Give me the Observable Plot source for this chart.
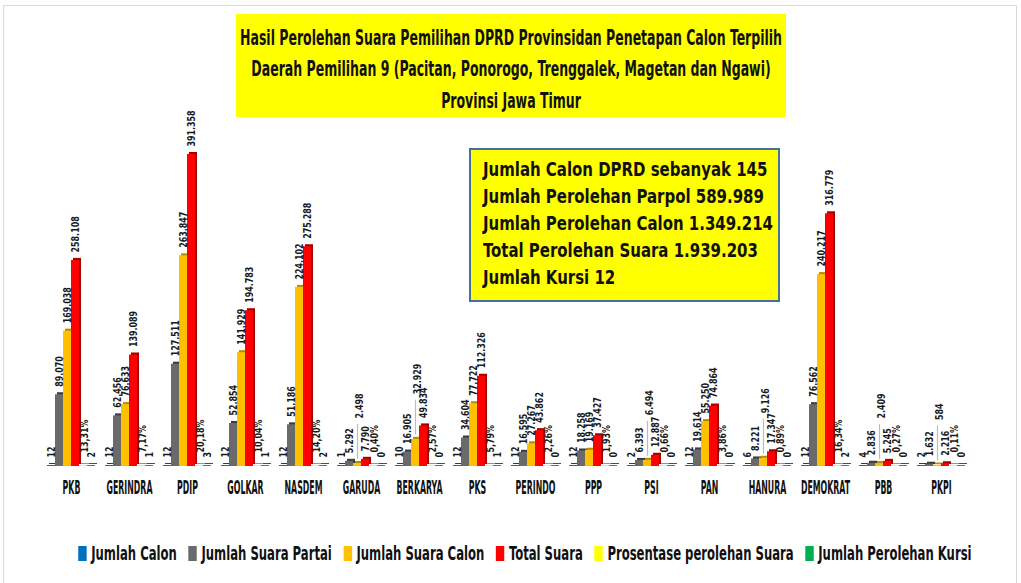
<!DOCTYPE html>
<html>
<head>
<meta charset="utf-8">
<script src="https://cdn.jsdelivr.net/npm/d3@7"></script>
<script src="https://cdn.jsdelivr.net/npm/@observablehq/plot@0.6"></script>
<style>
  body { margin: 0; background: #fff; }
  #wrap { position: relative; width: 1021px; height: 583px; overflow: hidden;
          font-family: "DejaVu Sans Condensed", "DejaVu Sans", sans-serif; font-stretch: condensed; font-weight: bold; color: #111; }
  #frame { position: absolute; left: 3px; top: 5px; width: 1014px; height: 620px; border: 1.5px solid #d9d9d9; box-sizing: border-box; }
  #chart { position: absolute; left: 0; top: 0; }
  #title { position: absolute; left: 236px; top: 14px; width: 550px; height: 103px; background: #ffff00; }
  .tl { position: absolute; left: 50%; white-space: nowrap; font-size: 21px; line-height: 21px; transform-origin: center; }
  #info { position: absolute; left: 469px; top: 148px; width: 311px; height: 154px; background: #ffff00;
          border: 2px solid #41719c; box-sizing: border-box; }
  .il { position: absolute; left: 12px; white-space: nowrap; font-size: 19px; line-height: 19px; transform-origin: left center; }
  #legend { position: absolute; top: 542px; left: 14px; width: 1021px; display: flex; justify-content: center; }
  #legendInner { display: flex; align-items: center; white-space: nowrap; font-size: 20px; line-height: 22px; transform-origin: center; }
  .li { display: flex; align-items: center; margin: 0 9px; }
  .sw { display: inline-block; width: 13px; height: 15px; margin-right: 7px; }
</style>
</head>
<body>
<div id="wrap">
  <div id="frame"></div>
  <div id="chart"></div>
  <div id="title"></div>
  <div id="info"></div>
  <div id="legend"><div id="legendInner"></div></div>
</div>
<script>
// ---- data ----
const parties = ["PKB","GERINDRA","PDIP","GOLKAR","NASDEM","GARUDA","BERKARYA","PKS","PERINDO","PPP","PSI","PAN","HANURA","DEMOKRAT","PBB","PKPI"];
const jumlahCalon = [12,12,12,12,12,1,10,12,12,12,2,12,6,12,4,2];
const suaraPartai = [89070,62456,127511,52854,51186,5292,16905,34604,16595,18258,6393,19614,8221,76562,2836,1632];
const suaraCalon  = [169038,76633,263847,141929,224102,2498,32929,77722,27267,19169,6494,55250,9126,240217,2409,584];
const totalSuara  = [258108,139089,391358,194783,275288,7790,49834,112326,43862,37427,12887,74864,17347,316779,5245,2216];
const prosentase  = [13.31,7.17,20.18,10.04,14.20,0.40,2.57,5.79,2.26,1.93,0.66,3.86,0.89,16.34,0.27,0.11];
const kursi       = [2,1,3,1,2,0,0,1,0,0,0,0,0,2,0,0];
const seriesNames = ["Jumlah Calon","Jumlah Suara Partai","Jumlah Suara Calon","Total Suara","Prosentase perolehan Suara","Jumlah Perolehan Kursi"];
const titleLines = ["Hasil Perolehan Suara Pemilihan DPRD Provinsidan Penetapan Calon Terpilih",
                    "Daerah Pemilihan 9 (Pacitan, Ponorogo, Trenggalek, Magetan dan Ngawi)",
                    "Provinsi Jawa Timur"];
const infoLines = ["Jumlah Calon DPRD sebanyak 145","Jumlah Perolehan Parpol 589.989","Jumlah Perolehan Calon 1.349.214",
                   "Total Perolehan Suara 1.939.203","Jumlah Kursi 12"];
// parties whose "Jumlah Suara Calon" label is lifted with a leader line
const liftedParties = ["GARUDA","BERKARYA","PSI","HANURA","PBB","PKPI"];

// ---- styles ----
const colors = ["#0070c0","#6a6a6a","#ffc000","#ff0000","#ffff00","#00b050"];
const darks  = ["#004a80","#3c3c3c","#b88a00","#a80000","#a8a800","#00783a"];
const FONT = '"DejaVu Sans Condensed", "DejaVu Sans", sans-serif';

const seriesValues = [jumlahCalon, suaraPartai, suaraCalon, totalSuara, prosentase, kursi];
const fmtInt = v => d3.format(",")(v).replace(/,/g, ".");
const rows = [];
parties.forEach((p, i) => {
  seriesNames.forEach((s, j) => {
    const v = seriesValues[j][i];
    const label = j === 4 ? v.toFixed(2).replace(".", ",") + "%" : fmtInt(v);
    rows.push({party: p, series: s, si: j, value: v, label, lifted: j === 2 && liftedParties.includes(p)});
  });
});
const darkOf = d => darks[d.si];

const normal = rows.filter(d => !d.lifted && d.si !== 4);
const pct = rows.filter(d => d.si === 4);
const lifted = rows.filter(d => d.lifted);

const chart = Plot.plot({
  width: 1021, height: 583,
  marginLeft: 42, marginRight: 50.5, marginTop: 155, marginBottom: 117,
  style: {fontFamily: FONT, fontStretch: "condensed", fontSize: "18px", fontWeight: "bold", color: "#111", background: "transparent", overflow: "visible"},
  fx: {domain: parties, paddingInner: 0.18, paddingOuter: 0, axis: "bottom", tickSize: 0, tickPadding: 13, label: null},
  x: {domain: seriesNames, padding: 0, axis: null},
  y: {domain: [0, d3.max(totalSuara)], axis: null},
  color: {domain: seriesNames, range: colors},
  marks: [
    Plot.barY(rows, {fx: "party", x: "series", y: "value", fill: darkOf, dx: 2, dy: -2, insetTop: -1}),
    Plot.barY(rows, {fx: "party", x: "series", y: "value", fill: "series", insetTop: -1}),
    Plot.ruleX(lifted, {fx: "party", x: "series", y1: "value", y2: "value", stroke: "#bdbdbd", strokeWidth: 1.2, insetBottom: 5, insetTop: -40}),
    Plot.text(normal, {fx: "party", x: "series", y: "value", text: "label", rotate: -90, textAnchor: "start", dy: -9, fontSize: 11, fill: "#1a1a1a"}),
    Plot.text(pct, {fx: "party", x: "series", y: "value", text: "label", rotate: -90, textAnchor: "start", dy: -14, dx: 1, fontSize: 11, fill: "#1a1a1a"}),
    Plot.text(lifted, {fx: "party", x: "series", y: "value", text: "label", rotate: -90, textAnchor: "start", dy: -46, dx: 2, fontSize: 11, fill: "#1a1a1a"})
  ]
});
document.getElementById("chart").appendChild(chart);

// condense SVG texts: rotated value labels along their length, axis labels horizontally
const texts = Array.from(chart.querySelectorAll("text"));
const axisTexts = texts.filter(t => !(t.getAttribute("transform") || "").includes("rotate"));
const valueTexts = texts.filter(t => (t.getAttribute("transform") || "").includes("rotate"));
valueTexts.forEach(t => t.setAttribute("transform", t.getAttribute("transform") + " scale(0.8,1)"));
axisTexts.forEach(t => { t.setAttribute("font-size", 20); t.style.fontSize = "20px"; t.style.fill = "#111"; });
const gerindra = axisTexts.find(t => t.textContent === "GERINDRA");
const axScale = gerindra ? 46 / gerindra.getBBox().width : 0.5;
axisTexts.forEach(t => t.setAttribute("transform", (t.getAttribute("transform") || "") + ` scale(${axScale},1)`));

// ---- title ----
const title = document.getElementById("title");
const tops = [14, 45, 77];
const spans = titleLines.map((t, i) => {
  const d = document.createElement("div");
  d.className = "tl"; d.style.top = tops[i] + "px"; d.textContent = t;
  title.appendChild(d);
  return d;
});
const tScale = 542 / spans[0].getBoundingClientRect().width;
spans.forEach(s => s.style.transform = `translateX(-50%) scaleX(${tScale})`);

// ---- info box ----
const info = document.getElementById("info");
const ils = infoLines.map((t, i) => {
  const d = document.createElement("div");
  d.className = "il"; d.style.top = (10 + i * 27) + "px"; d.textContent = t;
  info.appendChild(d); return d;
});
const iScale = 290 / ils[2].getBoundingClientRect().width;
ils.forEach(d => d.style.transform = `scaleX(${iScale})`);

// ---- legend ----
const li = document.getElementById("legendInner");
seriesNames.forEach((s, j) => {
  const it = document.createElement("div"); it.className = "li";
  const sw = document.createElement("span"); sw.className = "sw"; sw.style.background = colors[j];
  const tx = document.createElement("span"); tx.textContent = s;
  it.appendChild(sw); it.appendChild(tx); li.appendChild(it);
});
const lScale = 905 / li.getBoundingClientRect().width;
li.style.transform = `scaleX(${lScale})`;
</script>
</body>
</html>
